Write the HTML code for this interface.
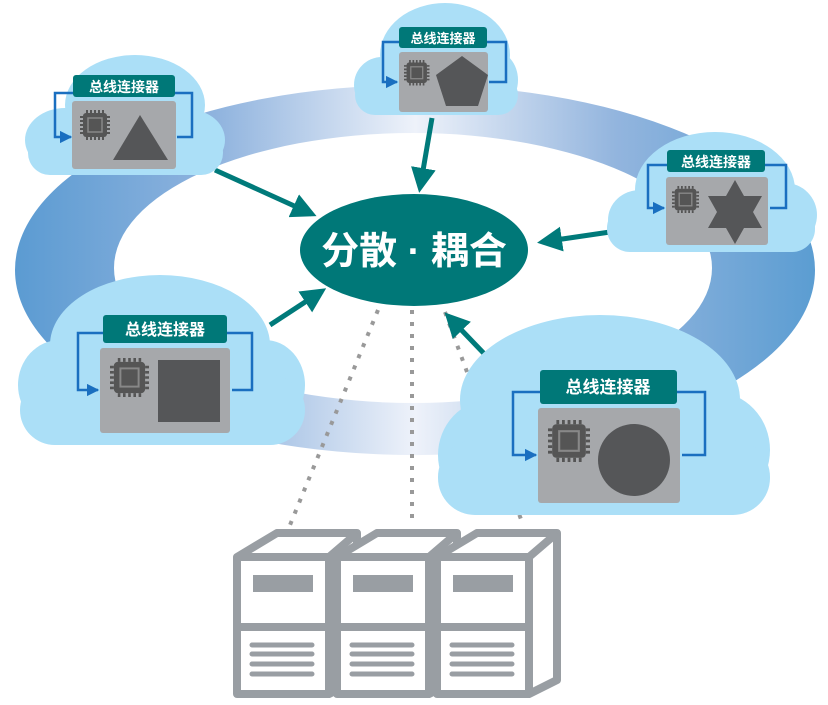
<!DOCTYPE html>
<html><head><meta charset="utf-8"><style>
html,body{margin:0;padding:0;background:#fff;width:828px;height:705px;overflow:hidden}
svg{display:block}
text{font-family:"Liberation Sans","Noto Sans CJK SC",sans-serif;font-weight:bold;fill:#fff}
</style></head><body>
<svg width="828" height="705" viewBox="0 0 828 705" xmlns="http://www.w3.org/2000/svg">
<defs>
<linearGradient id="rg" x1="0" y1="0" x2="1" y2="0">
<stop offset="0" stop-color="#5b9bd2"/>
<stop offset="0.25" stop-color="#8fb3de"/>
<stop offset="0.5" stop-color="#eef2fa"/>
<stop offset="0.75" stop-color="#93b5de"/>
<stop offset="1" stop-color="#5b9dd2"/>
</linearGradient>
<marker id="ah" viewBox="0 0 10 10" refX="8" refY="5" markerWidth="5" markerHeight="5" orient="auto"><path d="M0,0 L10,5 L0,10 z" fill="#007a7a"/></marker>
<marker id="bh" viewBox="0 0 10 10" refX="9" refY="5" markerWidth="5" markerHeight="5" orient="auto"><path d="M0,0 L10,5 L0,10 z" fill="#1a6fc0"/></marker>
<g id="chip"><rect x="3" y="3" width="24" height="24" rx="3" fill="#555"/><rect x="8" y="8" width="14" height="14" fill="none" stroke="#888" stroke-width="1.5"/>
<path d="M7,0v3M11,0v3M15,0v3M19,0v3M23,0v3M7,27v3M11,27v3M15,27v3M19,27v3M23,27v3M0,7h3M0,11h3M0,15h3M0,19h3M0,23h3M27,7h3M27,11h3M27,15h3M27,19h3M27,23h3" stroke="#555" stroke-width="2"/></g>
<g id="srv">
<path d="M0,24 L40,0 L120,0 L120,147 L92,161 L0,161 Z" fill="#fff" stroke="#999ea3" stroke-width="8" stroke-linejoin="round"/>
<path d="M0,24 H92 V161 M92,24 L120,0" fill="none" stroke="#999ea3" stroke-width="8" stroke-linejoin="round"/>
<line x1="0" y1="94" x2="92" y2="94" stroke="#999ea3" stroke-width="8"/>
<rect x="16" y="42" width="60" height="17" fill="#999ea3"/>
<path d="M15,112h60M15,121h60M15,131h60M15,141h60" stroke="#999ea3" stroke-width="5" stroke-linecap="round"/>
</g>
</defs>

<!-- ring -->
<path fill-rule="evenodd" fill="url(#rg)" d="M15,270 a400,185 0 1,0 800,0 a400,185 0 1,0 -800,0 Z M114,268 a299,135 0 1,0 598,0 a299,135 0 1,0 -598,0 Z"/>

<!-- dotted lines -->
<g stroke="#999" stroke-width="4" stroke-dasharray="4,8">
<line x1="378" y1="310" x2="290" y2="525"/>
<line x1="412" y1="310" x2="412" y2="525"/>
<line x1="445" y1="312" x2="522" y2="522"/>
</g>

<!-- servers -->
<use href="#srv" transform="translate(237,533)"/>
<use href="#srv" transform="translate(337,533)"/>
<use href="#srv" transform="translate(437,533)"/>

<!-- arrows -->
<g stroke="#007a7a" stroke-width="5" marker-end="url(#ah)">
<line x1="215" y1="170" x2="312" y2="214"/>
<line x1="432" y1="118" x2="420" y2="188"/>
<line x1="610" y1="232" x2="542" y2="242"/>
<line x1="270" y1="325" x2="322" y2="291"/>
<line x1="495" y1="365" x2="448" y2="316"/>
</g>

<!-- center ellipse -->
<ellipse cx="414" cy="250" rx="114" ry="56" fill="#007878"/>
<text x="414" y="264" font-size="38" text-anchor="middle">分散 · 耦合</text>

<!-- clouds -->
<g fill="#abdff7">
<ellipse cx="135" cy="105" rx="70" ry="50"/><ellipse cx="65" cy="140" rx="40" ry="32"/><ellipse cx="190" cy="140" rx="35" ry="30"/><rect x="28" y="130" width="195" height="45" rx="22"/>
<ellipse cx="445" cy="55" rx="65" ry="52"/><ellipse cx="382" cy="85" rx="28" ry="28"/><ellipse cx="492" cy="80" rx="26" ry="30"/><rect x="355" y="75" width="163" height="40" rx="20"/>
<ellipse cx="715" cy="190" rx="80" ry="58"/><ellipse cx="640" cy="220" rx="32" ry="30"/><ellipse cx="785" cy="215" rx="32" ry="32"/><rect x="607" y="205" width="208" height="47" rx="23"/>
<ellipse cx="160" cy="345" rx="110" ry="70"/><ellipse cx="60" cy="385" rx="42" ry="45"/><ellipse cx="265" cy="385" rx="40" ry="45"/><rect x="20" y="375" width="285" height="70" rx="35"/>
<ellipse cx="600" cy="400" rx="140" ry="85"/><ellipse cx="490" cy="455" rx="52" ry="55"/><ellipse cx="715" cy="450" rx="55" ry="58"/><rect x="438" y="440" width="332" height="75" rx="37"/>
</g>

<!-- modules -->
<g fill="none" stroke="#1a6fc0" stroke-width="2.5">
<path d="M73,93 H55 V137 H71" marker-end="url(#bh)"/><path d="M175,93 H192 V137 H177"/>
<path d="M399,42 H383 V82 H397" marker-end="url(#bh)"/><path d="M487,42 H506 V82 H489"/>
<path d="M667,165 H648 V208 H664" marker-end="url(#bh)"/><path d="M765,165 H786 V208 H770"/>
<path d="M103,333 H78 V390 H98" marker-end="url(#bh)"/><path d="M227,333 H252 V390 H232"/>
<path d="M540,392 H513 V455 H536" marker-end="url(#bh)"/><path d="M677,392 H705 V455 H682"/>
</g>
<g fill="#a6a8ab">
<rect x="72" y="101" width="104" height="68" rx="3"/>
<rect x="399" y="52" width="89" height="60" rx="3"/>
<rect x="666" y="177" width="102" height="68" rx="3"/>
<rect x="100" y="348" width="130" height="85" rx="3"/>
<rect x="538" y="408" width="142" height="95" rx="3"/>
</g>
<g fill="#007878">
<rect x="73" y="75" width="102" height="22" rx="3"/>
<rect x="399" y="27" width="88" height="21" rx="3"/>
<rect x="667" y="150" width="98" height="22" rx="3"/>
<rect x="103" y="315" width="124" height="28" rx="3"/>
<rect x="540" y="370" width="137" height="34" rx="3"/>
</g>
<text x="124" y="92" font-size="14" text-anchor="middle">总线连接器</text>
<text x="443" y="43" font-size="13" text-anchor="middle">总线连接器</text>
<text x="716" y="167" font-size="14" text-anchor="middle">总线连接器</text>
<text x="165" y="335" font-size="16" text-anchor="middle">总线连接器</text>
<text x="608" y="393" font-size="17" text-anchor="middle">总线连接器</text>

<use href="#chip" transform="translate(80,110)"/>
<use href="#chip" transform="translate(404,60) scale(0.85)"/>
<use href="#chip" transform="translate(672,186) scale(0.9)"/>
<use href="#chip" transform="translate(110,358) scale(1.3)"/>
<use href="#chip" transform="translate(548,420) scale(1.4)"/>

<g fill="#555658">
<polygon points="113,160 168,160 140,115"/>
<polygon points="462,56 488,75 478,106 446,106 436,75"/>
<polygon points="735,180 744,196 762,196 753,212 762,228 744,228 735,244 726,228 708,228 717,212 708,196 726,196"/>
<rect x="158" y="360" width="62" height="62"/>
<circle cx="634" cy="460" r="36"/>
</g>
</svg>
</body></html>
